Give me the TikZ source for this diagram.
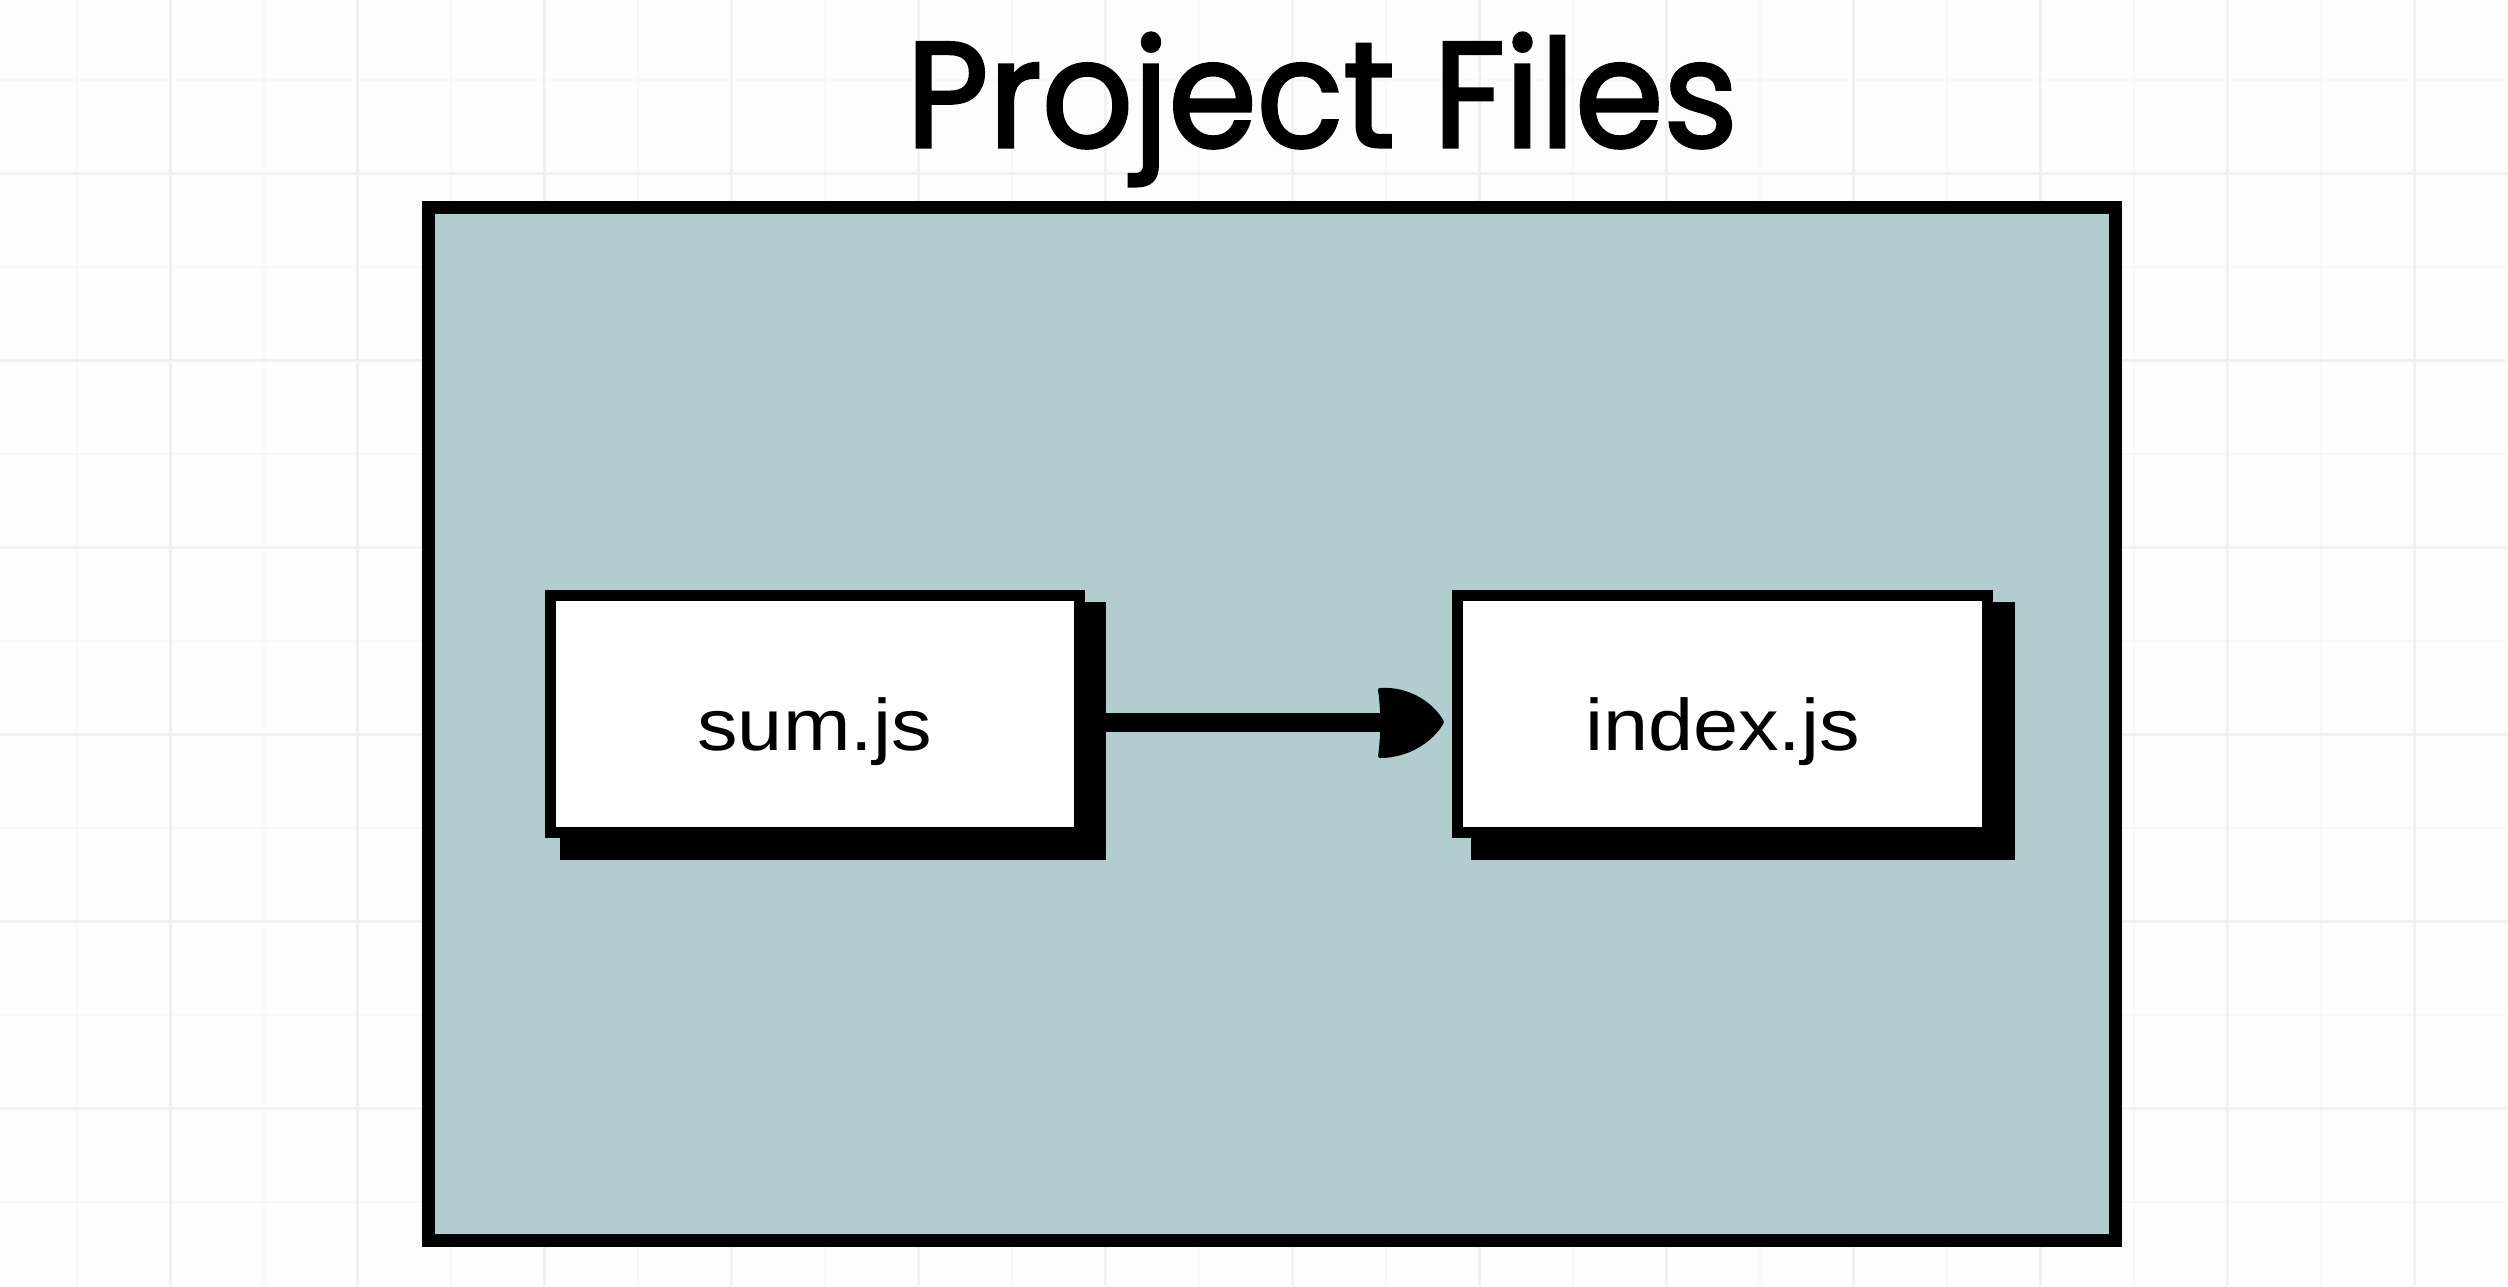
\documentclass[tikz,border=0pt]{standalone}
\usepackage{fontspec}
\newfontfamily\labelfont[FakeStretch=1.11]{Liberation Sans}
\newfontfamily\titlefont[FakeStretch=0.95,FakeBold=2]{Poppins}
\usetikzlibrary{arrows.meta,calc}
\definecolor{panel}{RGB}{177,205,208}
\definecolor{gridmajor}{RGB}{241,241,241}
\definecolor{gridminor}{RGB}{248,248,248}
\definecolor{paper}{RGB}{253,253,253}
\tikzset{
  minorline/.style={draw=gridminor, line width=2pt},
  majorline/.style={draw=gridmajor, line width=2.5pt},
  panelbox/.style={draw=black, fill=panel, line width=13pt, rectangle,
    minimum width=1687pt, minimum height=1033pt, inner sep=0pt},
  filebox/.style={draw=black, fill=white, line width=11pt, rectangle,
    minimum width=529pt, minimum height=237pt, inner sep=0pt,
    font=\labelfont\fontsize{73}{85}\selectfont,
    text height=80pt, text depth=8pt},
  titletext/.style={font=\titlefont\fontsize{150}{170}\selectfont, inner sep=0pt},
  connector/.style={draw=black, line width=19pt, shorten >=58pt},
  headfill/.style={fill=black, draw=black, line width=4pt, line join=round}
}
\begin{document}
\begin{tikzpicture}[x=1pt,y=-1pt]
\useasboundingbox (0,0) rectangle (2508,1286);
\fill[paper] (0,0) rectangle (2508,1286);
% grid
\foreach \i in {0,2,...,26} {
  \draw[minorline] ({77+93.5*\i},0) -- ({77+93.5*\i},1286);
  \draw[minorline] (0,{80+93.5*\i}) -- (2508,{80+93.5*\i});
}
\foreach \i in {1,3,...,27} {
  \draw[majorline] ({77+93.5*\i},0) -- ({77+93.5*\i},1286);
  \draw[majorline] (0,{80+93.5*\i}) -- (2508,{80+93.5*\i});
}
% title
\node[titletext, anchor=base west] (title) at (906,147) {Project Files};
% panel
\node[panelbox] (panel) at (1272,724) {};
% file boxes with shadows
\coordinate (sumc) at (814.5,714);
\coordinate (indexc) at (1722.5,714);
\fill[black] ($(sumc)+(-255,-112)$) rectangle ($(sumc)+(291,146)$);
\fill[black] ($(indexc)+(-252,-112)$) rectangle ($(indexc)+(292,146)$);
\node[filebox] (sum) at (sumc) {sum.js};
\node[filebox, minimum width=530pt] (index) at (indexc) {index.js};
% connector
\coordinate (tip) at ([xshift=-10pt,yshift=-8pt]index.west);
\draw[connector] ([yshift=-8pt]sum.east) -- ([yshift=-8pt]index.west);
\fill[headfill] ($(tip)+(-62,-32)$)
  .. controls ($(tip)+(-34,-34)$) and ($(tip)+(-10,-18)$) .. (tip)
  .. controls ($(tip)+(-10,18)$) and ($(tip)+(-34,34)$) .. ($(tip)+(-62,34)$)
  .. controls ($(tip)+(-59,14)$) and ($(tip)+(-59,-12)$) .. cycle;
\end{tikzpicture}
\end{document}
